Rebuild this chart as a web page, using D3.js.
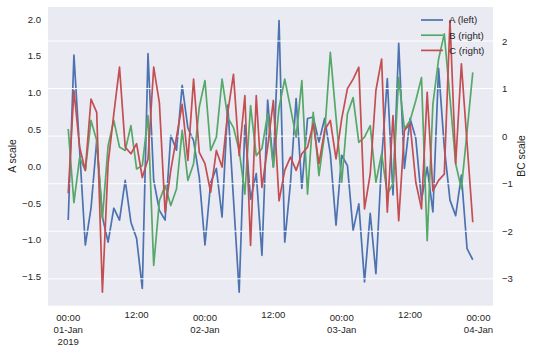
<!DOCTYPE html>
<html><head><meta charset="utf-8">
<script src="https://cdn.jsdelivr.net/npm/d3@7"></script>
<style>body{margin:0;background:#fff}svg{display:block}text{font-family:"Liberation Sans",Arial,sans-serif;fill:#262626}</style>
</head><body><svg id="c" width="534" height="353"></svg>
<script>
const startTime = new Date(Date.UTC(2019,0,1,0));
const nPoints = 72;
const seriesA = [-0.73,1.51,0.22,-1.07,-0.57,0.35,-0.69,-1.03,-0.57,-0.73,-0.19,-0.76,-0.98,-1.66,1.53,-0.19,-0.60,-0.73,0.42,0.22,1.10,0.52,0.35,-0.15,-1.07,-0.22,-0.03,-0.69,0.83,-0.44,-1.71,0.56,-0.45,-0.10,-1.21,0.90,-0.01,1.98,-1.03,-0.23,0.92,-0.30,0.65,0.67,0.33,0.65,0.17,-0.80,0.15,0.01,-0.87,-0.51,-1.57,-0.64,-1.46,0.08,1.19,-0.39,1.67,-0.03,0.65,0.38,-0.46,-0.01,-0.62,1.33,0.26,-0.46,-0.67,-0.12,-1.12,-1.27];
const seriesB = [0.15,-1.40,-0.45,-0.72,0.33,-0.09,-1.73,-0.20,0.33,-0.23,-0.30,0.22,-0.69,-0.62,0.43,-2.72,-1.36,-1.04,-1.46,-1.11,0.12,-0.93,-0.58,0.61,1.17,-0.30,-0.02,1.20,0.39,0.18,-0.30,-1.22,0.64,-0.41,-0.26,0.47,-0.65,0.60,1.20,0.60,-0.02,1.17,-1.22,0.50,-0.83,0.05,1.76,0.40,-0.97,0.47,0.81,-0.13,-0.02,0.22,-0.97,-0.37,-1.22,-1.00,1.23,0.15,0.33,0.75,1.23,-2.20,0.67,1.62,2.15,0.80,-0.58,-1.11,0.10,1.34];
const seriesC = [-1.20,0.96,-0.23,-0.72,0.78,0.50,-3.28,-0.58,0.47,1.45,-0.23,-0.37,-0.16,-0.87,-0.48,1.45,0.70,-1.60,-0.72,-0.02,0.67,-0.51,1.20,-0.34,-0.58,-1.18,-0.30,-0.65,0.50,1.30,-0.41,0.85,-2.30,0.85,-1.08,-0.23,0.75,-1.36,-0.72,-0.44,-0.72,-0.37,-0.23,0.26,-0.58,0.12,0.33,-0.48,0.37,1.00,1.20,1.45,-1.53,-0.80,0.96,1.62,-1.60,0.43,-1.78,0.12,0.26,-0.97,-1.53,0.92,-1.15,-0.93,-0.80,2.43,-0.58,1.52,-0.15,-1.81];
const leftTicks = [-1.5,-1.0,-0.5,0.0,0.5,1.0,1.5,2.0];
const rightTicks = [-3,-2,-1,0,1,2];
const legendLabels = ["A (left)","B (right)","C (right)"];
const colors = ["#4C72B0","#55A868","#C44E52"];

const times = d3.utcHour.range(startTime, d3.utcHour.offset(startTime, nPoints));
const svg = d3.select("#c");
const L = 48, R = 493, T = 7, B = 305.7;

function padded(ext){ const r = ext[1]-ext[0]; return [ext[0]-0.05*r, ext[1]+0.05*r]; }
const tExt = d3.extent(times);
const tPad = (tExt[1]-tExt[0])*0.05;
const x = d3.scaleUtc().domain([new Date(+tExt[0]-tPad), new Date(+tExt[1]+tPad)]).range([L,R]);
const yL = d3.scaleLinear().domain(padded(d3.extent(seriesA))).range([B,T]);
const yR = d3.scaleLinear().domain(padded(d3.extent(seriesB.concat(seriesC)))).range([B,T]);

svg.append("rect").attr("x",L).attr("y",T).attr("width",R-L).attr("height",B-T).attr("fill","#EAEAF2");

const line = (ys, arr) => d3.line().x((d,i)=>x(times[i])).y(d=>ys(d))(arr);

svg.append("path").attr("d", line(yL, seriesA)).attr("fill","none").attr("stroke",colors[0]).attr("stroke-width",1.7).attr("stroke-linejoin","round");

// right axis grid
svg.append("g").selectAll("line").data(rightTicks).join("line")
  .attr("x1",L).attr("x2",R).attr("y1",d=>yR(d)).attr("y2",d=>yR(d))
  .attr("stroke","#fff").attr("stroke-width",1);

svg.append("path").attr("d", line(yR, seriesB)).attr("fill","none").attr("stroke",colors[1]).attr("stroke-width",1.7).attr("stroke-linejoin","round");
svg.append("path").attr("d", line(yR, seriesC)).attr("fill","none").attr("stroke",colors[2]).attr("stroke-width",1.7).attr("stroke-linejoin","round");

// left axis
const gl = svg.append("g").attr("transform",`translate(${L},0)`)
  .call(d3.axisLeft(yL).tickValues(leftTicks).tickFormat(d3.format(".1f")).tickSize(0).tickPadding(7));
gl.select(".domain").remove();
gl.selectAll("text").attr("font-size",9.6).attr("fill","#262626").text(d=>d3.format(".1f")(d).replace("-","\u2212"));

const gr = svg.append("g").attr("transform",`translate(${R},0)`)
  .call(d3.axisRight(yR).tickValues(rightTicks).tickFormat(d3.format("d")).tickSize(0).tickPadding(9));
gr.select(".domain").remove();
gr.selectAll("text").attr("font-size",9.6).attr("fill","#262626").text(d=>String(d).replace("-","\u2212"));

// x axis
const xTicks = x.ticks(d3.utcHour.every(12));
const fmtDay = d3.utcFormat("%d-%b");
const gx = svg.append("g");
xTicks.forEach((t,k)=>{
  const major = t.getUTCHours()===0;
  const lines = major ? ["00:00", fmtDay(t)] : [d3.utcFormat("%H:%M")(t)];
  if (major && k===0) lines.push(d3.utcFormat("%Y")(t));
  const txt = gx.append("text").attr("x", x(t)).attr("text-anchor","middle").attr("font-size",9.6);
  lines.forEach((s,j)=>{
    txt.append("tspan").attr("x", x(t)).attr("y", (major?320.5:318) + j*12).text(s);
  });
});

svg.append("text").attr("transform","translate(16,156) rotate(-90)").attr("text-anchor","middle").attr("font-size",10.4).text("A scale");
svg.append("text").attr("transform","translate(525,156) rotate(-90)").attr("text-anchor","middle").attr("font-size",10.4).text("BC scale");

// legend
const lg = svg.append("g");
legendLabels.forEach((s,i)=>{
  const yy = 20 + i*15.2;
  lg.append("line").attr("x1",421).attr("x2",443).attr("y1",yy).attr("y2",yy).attr("stroke",colors[i]).attr("stroke-width",1.7);
  lg.append("text").attr("x",449).attr("y",yy).attr("dy","0.35em").attr("font-size",9.8).text(s);
});
</script></body></html>
